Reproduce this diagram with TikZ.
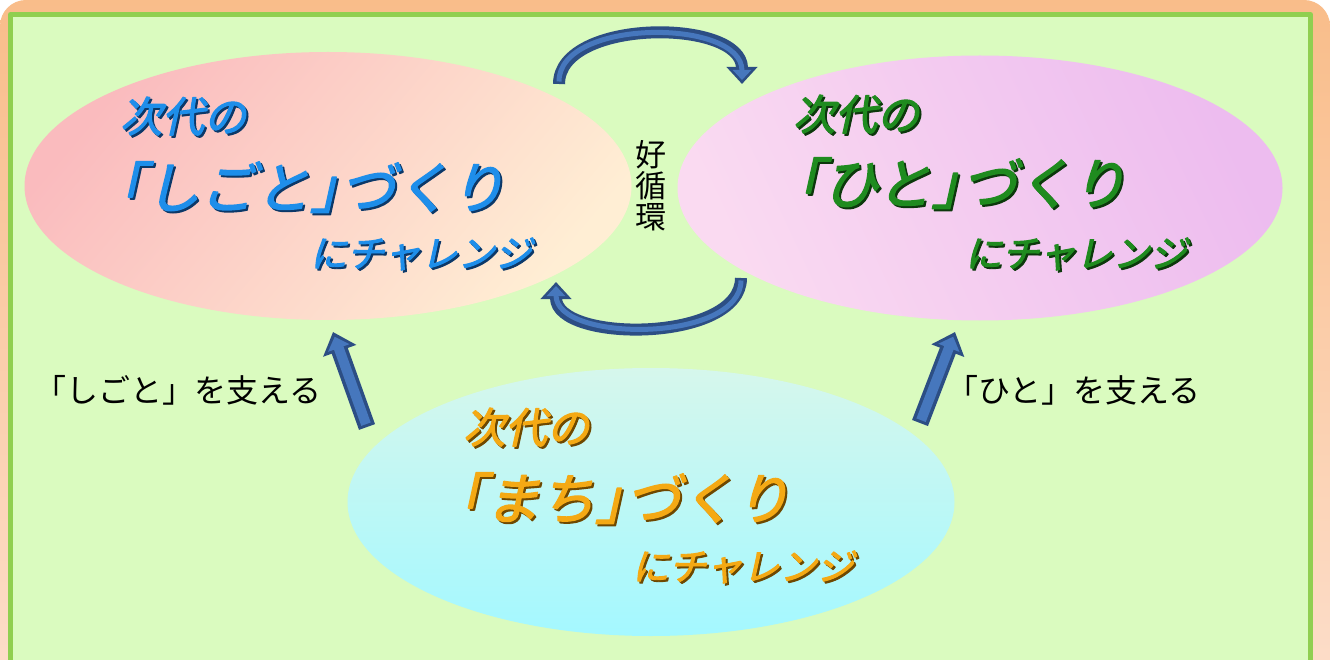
\documentclass[tikz,border=0pt]{standalone}
\usepackage{fontspec}
\usetikzlibrary{shapes.geometric,arrows.meta}
\newfontfamily\jpfont{Noto Sans CJK JP}
\newfontfamily\artfont[FakeSlant=0.22,FakeBold=2.5]{Noto Sans CJK JP}
\definecolor{frametop}{HTML}{F9BD8A}
\definecolor{framebot}{HTML}{FDE0CF}
\definecolor{panelfill}{HTML}{DAFBBF}
\definecolor{panelline}{HTML}{90CF50}
\definecolor{arrowdark}{HTML}{2C4E84}
\definecolor{arrowlight}{HTML}{4677BD}
\definecolor{artblue}{HTML}{1E8EEA}
\definecolor{shblue}{HTML}{0C3868}
\definecolor{artgreen}{HTML}{1F8B1F}
\definecolor{shgreen}{HTML}{0C380C}
\definecolor{artorange}{HTML}{F4A914}
\definecolor{shorange}{HTML}{6E4800}
\definecolor{shigotoA}{HTML}{FABBBE}
\definecolor{shigotoB}{HTML}{FFEED4}
\definecolor{hitoA}{HTML}{EDBCEF}
\definecolor{hitoB}{HTML}{FADAF1}
\definecolor{machiA}{HTML}{D6F7EC}
\definecolor{machiB}{HTML}{A4F8FF}
\newcommand{\artshadow}[3]{\makebox[0pt][l]{\hspace*{2pt}\raisebox{-2pt}[0pt][0pt]{\color{#2}#3}}{\color{#1}#3}}
\tikzset{
  oval/.style={ellipse,minimum width=607pt,minimum height=268pt,inner sep=0pt},
  wordart/.style={anchor=base west,inner sep=0pt},
  artsmall/.style={wordart,font=\artfont\fontsize{42}{42}\selectfont},
  artbig/.style={wordart,font=\artfont\fontsize{55}{55}\selectfont},
  artmid/.style={wordart,font=\artfont\fontsize{37}{37}\selectfont},
  plain/.style={inner sep=0pt,font=\jpfont\fontsize{32}{32}\selectfont},
  cycdark/.style={line width=12pt,draw=arrowdark,-{Triangle[width=30pt,length=17pt]}},
  cyclight/.style={line width=5pt,draw=arrowlight,shorten <=2.5pt,shorten >=4pt,-{Triangle[width=18pt,length=10pt]}},
  supdark/.style={line width=17pt,draw=arrowdark,-{Triangle[width=34pt,length=20pt]}},
  suplight/.style={line width=10pt,draw=arrowlight,shorten <=3pt,shorten >=5pt,-{Triangle[width=22pt,length=12pt]}}
}
\begin{document}
\begin{tikzpicture}[line cap=butt,line join=round,x=1pt,y=-1pt]
\useasboundingbox (0,0) rectangle (1330,660);
\clip (0,0) rectangle (1330,660);
\fill[white] (0,0) rectangle (1330,660);
\shade[top color=frametop,bottom color=framebot,rounded corners=26pt] (0,0) rectangle (1330,740);
\draw[line width=5pt,draw=panelline,fill=panelfill] (10.5,14.5) rectangle (1310.5,700);

\node[oval,top color=shigotoA,bottom color=shigotoB,shading angle=50] (shigoto) at (328,186) {};
\node[oval,minimum width=605pt,minimum height=265pt,top color=hitoA,bottom color=hitoB,shading angle=-65] (hito) at (980,188) {};
\node[oval,top color=machiA,bottom color=machiB,shading angle=0] (machi) at (651,502) {};

\node[artsmall] (shigoto1) at (120,132) {\artshadow{artblue}{shblue}{次代の}};
\node[artbig] (shigoto2) at (90,208) {\artshadow{artblue}{shblue}{「しごと」\kern-.45em づくり}};
\node[artmid] (shigoto3) at (310,267) {\artshadow{artblue}{shblue}{にチャレンジ}};

\node[artsmall] (hito1) at (793,130) {\artshadow{artgreen}{shgreen}{次代の}};
\node[artbig] (hito2) at (768,204) {\artshadow{artgreen}{shgreen}{「ひと」\kern-.45em づくり}};
\node[artmid] (hito3) at (965,267) {\artshadow{artgreen}{shgreen}{にチャレンジ}};

\node[artsmall] (machi1) at (463,443) {\artshadow{artorange}{shorange}{次代の}};
\node[artbig] (machi2) at (430,519) {\artshadow{artorange}{shorange}{「まち」\kern-.45em づくり}};
\node[artmid] (machi3) at (632,580) {\artshadow{artorange}{shorange}{にチャレンジ}};

\node[plain,align=center,font=\jpfont\fontsize{31}{31}\selectfont] (loop) at (651,186) {好\\循\\環};
\node[plain,anchor=base west] (supshigoto) at (34,402) {「しごと」を支える};
\node[plain,anchor=base west] (suphito) at (946,402) {「ひと」を支える};

\coordinate (topL) at (559,84);
\coordinate (topR) at (742,84);
\coordinate (botR) at (741,278);
\coordinate (botL) at (556,282);
\draw[cycdark] (topL) .. controls (559,18) and (742,18) .. (topR);
\draw[cyclight] (topL) .. controls (559,18) and (742,18) .. (topR);
\draw[cycdark] (botR) .. controls (741,343) and (556,343) .. (botL);
\draw[cyclight] (botR) .. controls (741,343) and (556,343) .. (botL);

\coordinate (sL0) at (367,427);
\coordinate (sL1) at (333,332);
\coordinate (sR0) at (920,423);
\coordinate (sR1) at (955,332);
\draw[supdark] (sL0) -- (sL1);
\draw[suplight] (sL0) -- (sL1);
\draw[supdark] (sR0) -- (sR1);
\draw[suplight] (sR0) -- (sR1);
\end{tikzpicture}
\end{document}
